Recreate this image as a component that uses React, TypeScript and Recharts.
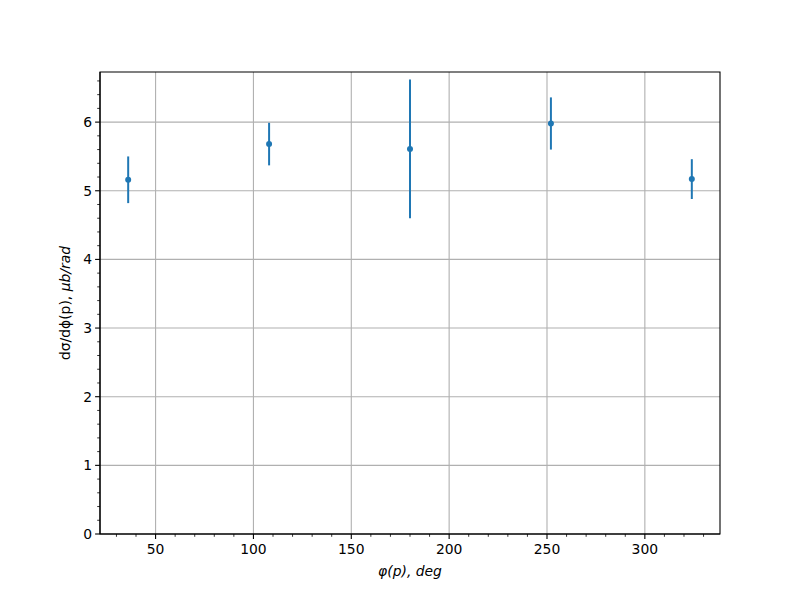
import React from 'react';
import { ScatterChart, Scatter, XAxis, YAxis, CartesianGrid, ErrorBar, ReferenceArea } from 'recharts';

const phiDeg = [36, 108, 180, 252, 324];
const xsec = [5.16, 5.68, 5.61, 5.98, 5.17];
const xsecErr = [0.34, 0.31, 1.01, 0.38, 0.29];

const xMajor = [50, 100, 150, 200, 250, 300];
const xMinor = [30, 40, 50, 60, 70, 80, 90, 100, 110, 120, 130, 140, 150, 160, 170, 180, 190, 200, 210, 220, 230, 240, 250, 260, 270, 280, 290, 300, 310, 320, 330];
const yMajor = [0, 1, 2, 3, 4, 5, 6];
const yMinor = [0, 0.2, 0.4, 0.6, 0.8, 1, 1.2, 1.4, 1.6, 1.8, 2, 2.2, 2.4, 2.6, 2.8, 3, 3.2, 3.4, 3.6, 3.8, 4, 4.2, 4.4, 4.6, 4.8, 5, 5.2, 5.4, 5.6, 5.8, 6, 6.2, 6.4, 6.6];

const xDomain: [number, number] = [21.6, 338.4];
const yDomain: [number, number] = [0, 6.73];

const data = phiDeg.map((x, i) => ({ x, y: xsec[i], err: xsecErr[i] }));

const FONT = '"DejaVu Sans", sans-serif';
const BLUE = '#1f77b4';

const XTick = (props: any) => {
  const { x, y, payload } = props;
  const major = xMajor.includes(payload.value);
  return (
    <g>
      <line x1={x} x2={x} y1={y} y2={y + (major ? 4.9 : 2.8)} stroke="#000" strokeWidth={major ? 1.1 : 0.8} />
      {major && (
        <text x={x} y={y + 20} textAnchor="middle" fontSize={13.9} fontFamily={FONT} fill="#000">
          {payload.value}
        </text>
      )}
    </g>
  );
};

const YTick = (props: any) => {
  const { x, y, payload } = props;
  const major = yMajor.some((v) => Math.abs(v - payload.value) < 1e-6);
  return (
    <g>
      <line x1={x} x2={x - (major ? 4.9 : 2.8)} y1={y} y2={y} stroke="#000" strokeWidth={major ? 1.1 : 0.8} />
      {major && (
        <text x={x - 8} y={y + 5} textAnchor="end" fontSize={13.9} fontFamily={FONT} fill="#000">
          {payload.value}
        </text>
      )}
    </g>
  );
};

export default function App() {
  return (
    <div style={{ position: 'absolute', left: 0, top: 0, width: 800, height: 600, background: '#fff' }}>
      <ScatterChart width={800} height={600} margin={{ top: 72, right: 80, bottom: 0, left: 0 }}>
        <CartesianGrid
          stroke="#b0b0b0"
          strokeWidth={1.1}
          horizontalValues={yMajor.slice(1)}
          verticalValues={xMajor}
        />
        <XAxis
          type="number"
          dataKey="x"
          domain={xDomain}
          allowDataOverflow
          ticks={xMinor}
          interval={0}
          tick={<XTick />}
          tickLine={false}
          tickSize={0}
          tickMargin={0}
          axisLine={{ stroke: '#000', strokeWidth: 1.1 }}
          height={66}
        />
        <YAxis
          type="number"
          dataKey="y"
          domain={yDomain}
          allowDataOverflow
          ticks={yMinor}
          interval={0}
          tick={<YTick />}
          tickLine={false}
          tickSize={0}
          tickMargin={0}
          axisLine={{ stroke: '#000', strokeWidth: 1.1 }}
          width={100}
        />
        <ReferenceArea x1={xDomain[0]} x2={xDomain[1]} y1={yDomain[0]} y2={yDomain[1]} fill="none" stroke="#000" strokeWidth={1.1} ifOverflow="visible" />
        <Scatter data={data} fill={BLUE} isAnimationActive={false} shape={(p: any) => <circle cx={p.cx} cy={p.cy} r={3} fill={BLUE} />}>
          <ErrorBar dataKey="err" direction="y" width={0} stroke={BLUE} strokeWidth={2} isAnimationActive={false} />
        </Scatter>
        <text x={410} y={576} textAnchor="middle" fontSize={13.9} fontFamily={FONT} fontStyle="italic" fill="#000">
          φ(p), deg
        </text>
        <text x={70} y={303} textAnchor="middle" fontSize={13.9} fontFamily={FONT} fill="#000" transform="rotate(-90 70 303)">
          dσ/dϕ(p), <tspan fontStyle="italic">μb/rad</tspan>
        </text>
      </ScatterChart>
    </div>
  );
}
